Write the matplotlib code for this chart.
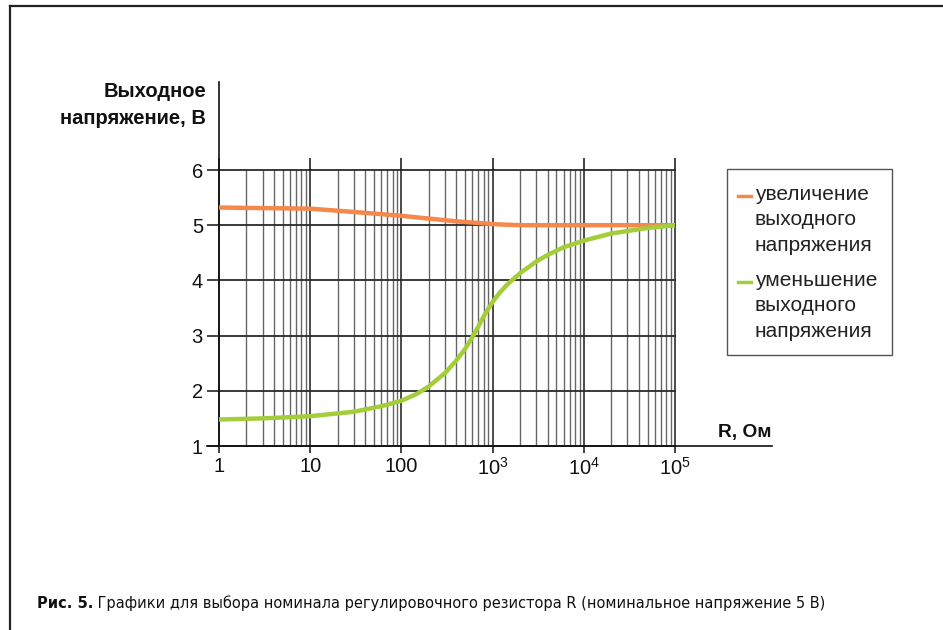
import matplotlib
matplotlib.use('Agg')
import matplotlib.pyplot as plt
from matplotlib import font_manager as fm
from matplotlib.lines import Line2D
from matplotlib.patches import Rectangle

plt.rcParams['font.family'] = ['Liberation Sans', 'DejaVu Sans']
plt.rcParams['mathtext.fontset'] = 'custom'
plt.rcParams['mathtext.rm'] = 'Liberation Sans'
plt.rcParams['mathtext.default'] = 'regular'

# Resistance values, Ohm
r_up = [1, 3, 10, 30, 60, 100, 200, 400, 700, 1000, 2000, 10000, 100000]
v_up = [5.32, 5.31, 5.30, 5.24, 5.20, 5.17, 5.12, 5.07, 5.04, 5.02, 5.0, 5.0, 5.0]

r_down = [1, 3, 10, 30, 60, 100, 150, 200, 300, 400, 500, 600, 700, 800, 900,
          1000, 1200, 1500, 2000, 3000, 4000, 6000, 10000, 20000, 50000, 100000]
v_down = [1.48, 1.50, 1.54, 1.62, 1.72, 1.82, 1.95, 2.08, 2.32, 2.55, 2.76, 2.97,
          3.17, 3.35, 3.49, 3.61, 3.78, 3.95, 4.13, 4.34, 4.46, 4.60, 4.72, 4.85,
          4.95, 5.0]

decades = [1, 10, 100, 1e3, 1e4, 1e5]
decade_labels = ['1', '10', '100', '$10^3$', '$10^4$', '$10^5$']
volts = [1, 2, 3, 4, 5, 6]

legend_labels = ['увеличение\nвыходного\nнапряжения',
                 'уменьшение\nвыходного\nнапряжения']
colors = ['#F5884A', '#A3CD39']

caption_bold = 'Рис. 5.'
caption_text = (' Графики для выбора номинала регулировочного резистора R '
                '(номинальное напряжение 5 В)')

W, H = 943, 630


def fx(x):
    return x / W


def fy(y):
    return 1 - y / H


def narrow_font(bold):
    """Pick a narrow/condensed face if one is installed."""
    want = 'bold' if bold else 'normal'
    for f in fm.fontManager.ttflist:
        narrow = ('Narrow' in f.name or 'Condensed' in f.name
                  or f.stretch in ('condensed', 'semi-condensed'))
        is_bold = f.weight in ('bold', 700, 'heavy', 800)
        if narrow and f.style == 'normal' and (is_bold == bold):
            return fm.FontProperties(fname=f.fname)
    return fm.FontProperties(family='Liberation Sans', weight=want)


fig = plt.figure(figsize=(W / 100, H / 100), dpi=100)
ax = fig.add_axes([fx(219), fy(446), (675 - 219) / W, (446 - 170) / H])
ax.set_xscale('log')
ax.set_xlim(1, 1e5)
ax.set_ylim(1, 6)
for s in ax.spines.values():
    s.set_visible(False)

# grid: black decades, gray minor lines
ax.grid(which='major', axis='x', color='#1a1a1a', lw=1.1)
ax.grid(which='minor', axis='x', color='#666666', lw=1.0)
ax.grid(which='major', axis='y', color='#2a2a2a', lw=1.3)
for gl in ax.get_xgridlines() + ax.get_ygridlines():
    gl.set_clip_on(False)

ax.set_xticks(decades, labels=decade_labels)
ax.set_yticks(volts)
ax.tick_params(axis='x', which='major', direction='out', length=4.8, width=1.1,
               pad=3, labelsize=14.5, colors='#111')
ax.tick_params(axis='x', which='minor', length=0)
ax.tick_params(axis='y', direction='out', length=8.6, width=1.1, pad=3,
               labelsize=14.5, colors='#111')

# axis lines extended past the grid
ax.plot([0, 0], [0, (446 - 82) / 276], transform=ax.transAxes, color='#111',
        lw=1.2, clip_on=False)
ax.plot([-12 / 456, (772 - 219) / 456], [0, 0], transform=ax.transAxes,
        color='#111', lw=1.2, clip_on=False)
ax.vlines(decades, 1, 1 + 12 / 276, transform=ax.get_xaxis_transform(),
          color='#111', lw=1.1, clip_on=False)

ax.plot(r_up, v_up, color=colors[0], lw=3.2, zorder=5)
ax.plot(r_down, v_down, color=colors[1], lw=3.2, zorder=5)

fig.text(fx(206), fy(82), 'Выходное\nнапряжение, В', ha='right', va='top',
         fontsize=14.5, fontweight='bold', color='#111', linespacing=1.54)
fig.text(fx(771), fy(437), 'R, Ом', ha='right', va='baseline',
         fontsize=13.8, fontweight='bold', color='#111')

# legend box
fig.add_artist(Rectangle((fx(727), fy(355)), (892 - 727) / W, (355 - 169) / H,
                         transform=fig.transFigure, fill=False,
                         edgecolor='#555', lw=1.0))
for i, (lab, c) in enumerate(zip(legend_labels, colors)):
    base = 202 + i * 86
    fig.add_artist(Line2D([fx(738), fx(751)], [fy(base - 6), fy(base - 6)],
                          color=c, lw=2.5))
    fig.text(fx(755), fy(base - 17), lab, ha='left', va='top', fontsize=15,
             color='#222', linespacing=1.42)

# page frame
fig.add_artist(Line2D([fx(10), 1], [fy(6), fy(6)], color='#222', lw=1.6))
fig.add_artist(Line2D([fx(10), fx(10)], [0, fy(6)], color='#222', lw=1.6))

# caption, sized to run from x=37 to x=828
fp_b = narrow_font(True)
fp_r = narrow_font(False)
t1 = fig.text(fx(37), fy(608), caption_bold, ha='left', va='baseline',
              fontproperties=fp_b, fontsize=12.5, color='#111')
t2 = ax.annotate(caption_text, xy=(1, 0), xycoords=t1, va='bottom', ha='left',
                 fontproperties=fp_r, fontsize=12.5, color='#111',
                 annotation_clip=False)
r = fig.canvas.get_renderer()
width = t1.get_window_extent(r).width + t2.get_window_extent(r).width
size = min(13.5, 12.5 * (828 - 37) / width)
t1.set_fontsize(size)
t2.set_fontsize(size)

fig.savefig('out.png', dpi=100)
